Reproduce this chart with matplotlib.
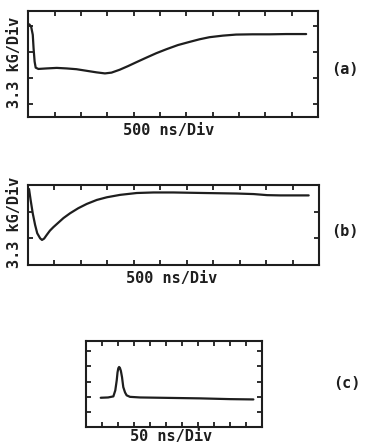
import numpy as np
import matplotlib
matplotlib.use("Agg")
import matplotlib.pyplot as plt

# trace (a): x and y in scope divisions
a_x = [0.04, 0.11, 0.17, 0.2, 0.24, 0.28, 0.38, 0.70, 1.08, 1.45, 1.83, 2.21,
       2.59, 2.91, 3.16, 3.47, 3.79, 4.11, 4.48, 4.86, 5.24, 5.68, 6.12, 6.5,
       6.88, 7.39, 7.89, 8.52, 9.16, 9.79, 10.55]
a_y = [3.05, 2.95, 2.65, 2.14, 1.63, 1.40, 1.35, 1.37, 1.39, 1.37, 1.34, 1.28,
       1.22, 1.18, 1.21, 1.32, 1.46, 1.61, 1.78, 1.95, 2.10, 2.26, 2.38, 2.48,
       2.56, 2.62, 2.66, 2.67, 2.67, 2.68, 2.68]

# trace (b)
b_x = [0.05, 0.11, 0.19, 0.28, 0.36, 0.47, 0.54, 0.62, 0.72, 0.84, 0.97, 1.16,
       1.35, 1.6, 1.91, 2.23, 2.61, 2.99, 3.49, 4.12, 4.75, 5.5, 6.64, 7.9,
       8.53, 9.04, 9.54, 10.61]
b_y = [2.85, 2.44, 1.94, 1.50, 1.19, 1.0, 0.94, 0.99, 1.13, 1.29, 1.42, 1.59,
       1.76, 1.94, 2.13, 2.29, 2.44, 2.54, 2.63, 2.70, 2.72, 2.72, 2.70, 2.68,
       2.66, 2.62, 2.61, 2.61]

# trace (c)
c_x = [0.92, 1.38, 1.71, 1.83, 1.92, 1.97, 2.02, 2.07, 2.12, 2.18, 2.25, 2.33,
       2.44, 2.54, 2.75, 3.38, 5.25, 7.13, 9.0, 10.46]
c_y = [0.94, 0.96, 1.03, 1.42, 2.08, 2.6, 2.88, 2.96, 2.9, 2.7, 2.3, 1.64,
       1.29, 1.10, 1.0, 0.96, 0.93, 0.90, 0.85, 0.83]

W, H = 366, 447
ink = "#1e1e1e"
font = "DejaVu Sans Mono"


def px(x, y):
    # pixel position (y from top) -> figure fraction
    return x / W, 1 - y / H


def make_panel(fig, box, ylim, yticks, xs, ys):
    x0, y0, x1, y1 = box
    ax = fig.add_axes([x0 / W, 1 - y1 / H, (x1 - x0) / W, (y1 - y0) / H])
    ax.plot(xs, ys, color=ink, lw=1.6, solid_capstyle="round",
            solid_joinstyle="round")
    ax.set_xlim(0, 11)
    ax.set_ylim(*ylim)
    ax.set_xticks(np.arange(1, 11))
    ax.set_yticks(yticks)
    ax.tick_params(direction="in", length=3.5, width=1.3, color=ink,
                   top=True, right=True, labelbottom=False, labelleft=False)
    for s in ax.spines.values():
        s.set_linewidth(1.5)
        s.set_color(ink)
    return ax


fig = plt.figure(figsize=(W / 100, H / 100), dpi=100)

make_panel(fig, (28.3, 10.7, 318, 116.7), (-0.47, 3.57), [0, 1, 2, 3], a_x, a_y)
make_panel(fig, (27.7, 185, 319, 265), (0, 3), [1, 2], b_x, b_y)
make_panel(fig, (86, 340.5, 262, 427), (-0.98, 4.7), [0, 1, 2, 3, 4], c_x, c_y)

txt = dict(fontsize=11, color=ink, family=font, weight="bold",
           ha="center", va="center")
fig.text(*px(169, 130), "500 ns/Div", **txt)
fig.text(*px(172, 278), "500 ns/Div", **txt)
fig.text(*px(171, 437), "50 ns/Div", **txt)
fig.text(*px(15, 62), "3.3 kG/Div", rotation=90, **txt)
fig.text(*px(15, 222), "3.3 kG/Div", rotation=90, **txt)
fig.text(*px(345, 69), "(a)", **txt)
fig.text(*px(345, 231), "(b)", **txt)
fig.text(*px(347, 383), "(c)", **txt)

plt.savefig("out.png", dpi=100, facecolor="white")
